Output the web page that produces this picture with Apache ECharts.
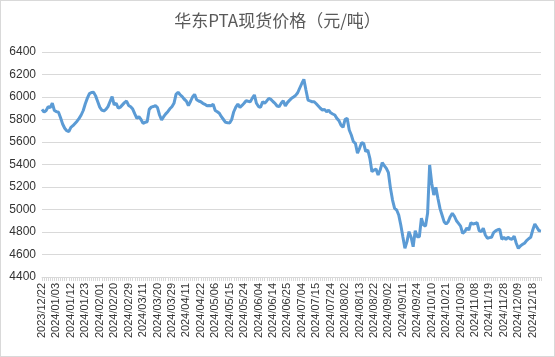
<!DOCTYPE html>
<html><head><meta charset="utf-8">
<script src="https://cdn.jsdelivr.net/npm/echarts@6/dist/echarts.min.js"></script>
<style>html,body{margin:0;padding:0;background:#fff}#c{width:553px;height:355px;border:1px solid #d9d9d9}</style>
</head><body><div id="c"></div>
<script>
// Chinese exchange holidays (weekday closures) in the period
const holidays = ['2024-01-01','2024-02-09','2024-02-12','2024-02-13','2024-02-14','2024-02-15','2024-02-16',
  '2024-04-04','2024-04-05','2024-05-01','2024-05-02','2024-05-03','2024-06-10','2024-09-16','2024-09-17',
  '2024-10-01','2024-10-02','2024-10-03','2024-10-04','2024-10-07'];
const startDate = '2023-12-22';
const prices = [
5890,5865,5880,5914,5905,5945,5880,5870,5864,5815,
5760,5722,5700,5692,5730,5745,5765,5785,5810,5840,
5880,5940,5990,6030,6040,6042,6010,5960,5910,5884,
5876,5890,5915,5960,6003,5930,5944,5900,5910,5930,
5950,5964,5925,5914,5893,5850,5811,5825,5800,5766,
5775,5780,5890,5910,5915,5923,5905,5840,5796,5825,
5850,5869,5895,5914,5944,6024,6042,6020,6003,5980,
5964,5923,5960,6000,6024,5975,5964,5958,5944,5935,
5923,5925,5923,5935,5880,5869,5855,5825,5800,5775,
5772,5768,5800,5869,5910,5938,5908,5925,5944,5967,
5962,5958,5990,6018,5944,5915,5908,5958,5944,5965,
5988,5979,5960,5944,5920,5914,5944,5967,5920,5950,
5970,5988,6000,6015,6038,6080,6120,6157,6062,5973,
5965,5958,5958,5940,5920,5900,5884,5890,5869,5884,
5860,5849,5840,5810,5790,5750,5731,5802,5810,5707,
5662,5603,5588,5500,5544,5594,5588,5514,5529,5455,
5336,5351,5360,5307,5351,5416,5390,5366,5327,5188,
5084,5010,4996,4951,4862,4758,4655,4714,4803,4753,
4669,4812,4758,4758,4922,4862,4853,4966,5396,5233,
5129,5197,5100,5010,4951,4892,4871,4892,4936,4966,
4940,4900,4877,4853,4788,4803,4835,4818,4883,4871,
4875,4883,4812,4803,4833,4773,4744,4750,4753,4794,
4810,4820,4824,4735,4753,4735,4753,4740,4735,4764,
4700,4655,4676,4690,4700,4723,4740,4753,4818,4871,
4842,4812,4810];
const yTicks = {min: 4400, max: 6400, step: 200};
const titleText = '华东PTA现货价格（元/吨）';

function pad(n){return n<10?'0'+n:''+n;}
function buildDates(start, count){
  const out=[]; const d=new Date(start+'T00:00:00Z');
  while(out.length<count){
    const key=d.getUTCFullYear()+'-'+pad(d.getUTCMonth()+1)+'-'+pad(d.getUTCDate());
    const wd=d.getUTCDay();
    if(wd!==0&&wd!==6&&holidays.indexOf(key)<0) out.push(key.replace(/-/g,'/'));
    d.setUTCDate(d.getUTCDate()+1);
  }
  return out;
}
const categories = buildDates(startDate, prices.length);

const chart = echarts.init(document.getElementById('c'));
chart.setOption({
  animation:false,
  title:{text:titleText,left:'center',top:6,textStyle:{fontFamily:'Noto Sans CJK SC',fontSize:17,fontWeight:'normal',color:'#595959'}},
  grid:{left:41,right:13,top:51,bottom:79},
  xAxis:{type:'category',data:categories,boundaryGap:false,
    axisLine:{lineStyle:{color:'#d9d9d9'}},
    axisTick:{show:true,interval:0,length:4,lineStyle:{color:'#d9d9d9'}},
    axisLabel:{interval:6,rotate:90,fontSize:11,color:'#333333',fontFamily:'Liberation Sans',margin:6}},
  yAxis:{type:'value',min:yTicks.min,max:yTicks.max,interval:yTicks.step,
    axisLine:{show:false},axisTick:{show:false},
    splitLine:{lineStyle:{color:'#d9d9d9'}},
    axisLabel:{fontSize:12,color:'#333333',fontFamily:'Liberation Sans',margin:6,formatter:function(v){return String(v);}}},
  series:[{type:'line',data:prices,showSymbol:false,symbol:'none',
    lineStyle:{color:'#5B9BD5',width:3},itemStyle:{color:'#5B9BD5'}}]
});
</script></body></html>
